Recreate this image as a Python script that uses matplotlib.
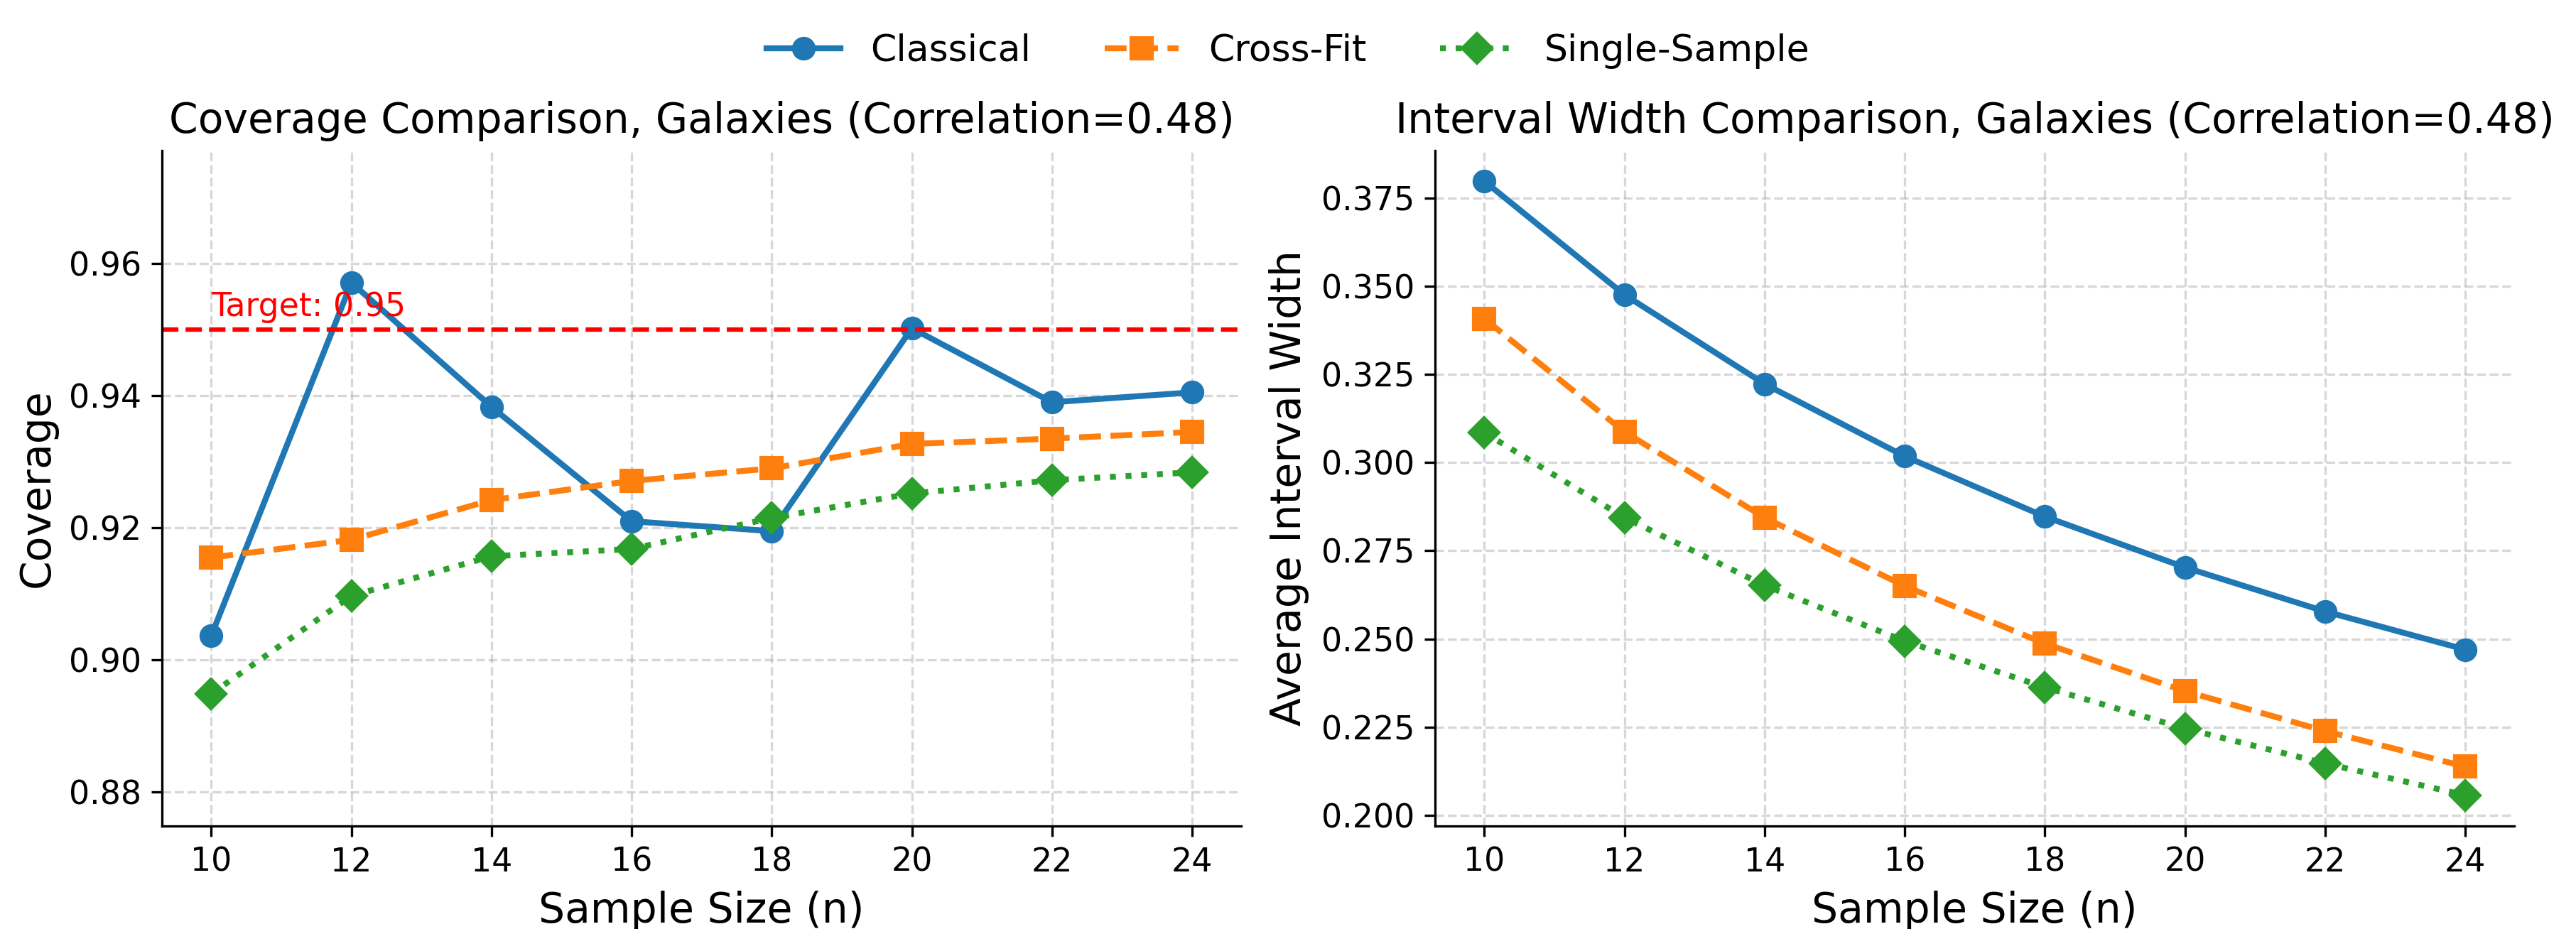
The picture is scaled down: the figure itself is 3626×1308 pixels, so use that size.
import numpy as np
import matplotlib.pyplot as plt

sample_sizes = [10, 12, 14, 16, 18, 20, 22, 24]
methods = ["Classical", "Cross-Fit", "Single-Sample"]

coverage_classical = [0.9037, 0.9571, 0.9383, 0.9210, 0.9195, 0.9502, 0.9390, 0.9405]
coverage_crossfit = [0.9155, 0.9182, 0.9242, 0.9271, 0.9290, 0.9327, 0.9335, 0.9345]
coverage_single = [0.8949, 0.9097, 0.9157, 0.9168, 0.9215, 0.9252, 0.9272, 0.9284]

width_classical = [0.3798, 0.3476, 0.3223, 0.3018, 0.2847, 0.2703, 0.2578, 0.2470]
width_crossfit = [0.3408, 0.3087, 0.2844, 0.2650, 0.2487, 0.2352, 0.2239, 0.2138]
width_single = [0.3085, 0.2844, 0.2652, 0.2494, 0.2363, 0.2246, 0.2147, 0.2057]

target = 0.95
corr = 0.48

styles = [
    dict(color="#1f77b4", linestyle="-", marker="o"),
    dict(color="#ff7f0e", linestyle="--", marker="s"),
    dict(color="#2ca02c", linestyle=":", marker="D"),
]

fig, (ax1, ax2) = plt.subplots(1, 2, figsize=(3626 / 300, 1308 / 300), dpi=300)
fig.subplots_adjust(left=0.063, right=0.976, bottom=0.111, top=0.838, wspace=0.18)

cov_series = [coverage_classical, coverage_crossfit, coverage_single]
for name, vals, st in zip(methods, cov_series, styles):
    ax1.plot(sample_sizes, vals, label=name, linewidth=2, markersize=7, **st)
ax1.axhline(target, color="red", linestyle="--", linewidth=1.5)
ax1.text(10, target + 0.002, f"Target: {target:.2f}", color="red", fontsize=11)
all_cov = np.concatenate(cov_series)
ax1.set_ylim(all_cov.min() - 0.02, all_cov.max() + 0.02)
ax1.set_title(f"Coverage Comparison, Galaxies (Correlation={corr:.2f})", fontsize=14)
ax1.set_xlabel("Sample Size (n)", fontsize=14)
ax1.set_ylabel("Coverage", fontsize=14)

width_series = [width_classical, width_crossfit, width_single]
for name, vals, st in zip(methods, width_series, styles):
    ax2.plot(sample_sizes, vals, label=name, linewidth=2, markersize=7, **st)
ax2.set_title(f"Interval Width Comparison, Galaxies (Correlation={corr:.2f})", fontsize=14)
ax2.set_xlabel("Sample Size (n)", fontsize=14)
ax2.set_ylabel("Average Interval Width", fontsize=14)

for ax in (ax1, ax2):
    ax.set_xticks(sample_sizes)
    ax.tick_params(labelsize=11)
    ax.grid(True, linestyle="--", alpha=0.5)
    ax.spines["top"].set_visible(False)
    ax.spines["right"].set_visible(False)

handles, labels = ax1.get_legend_handles_labels()
fig.legend(handles, labels, loc="upper center", ncol=3, frameon=False,
           fontsize=12.5, bbox_to_anchor=(0.5, 1.0))

plt.savefig("out.png", dpi=300)
